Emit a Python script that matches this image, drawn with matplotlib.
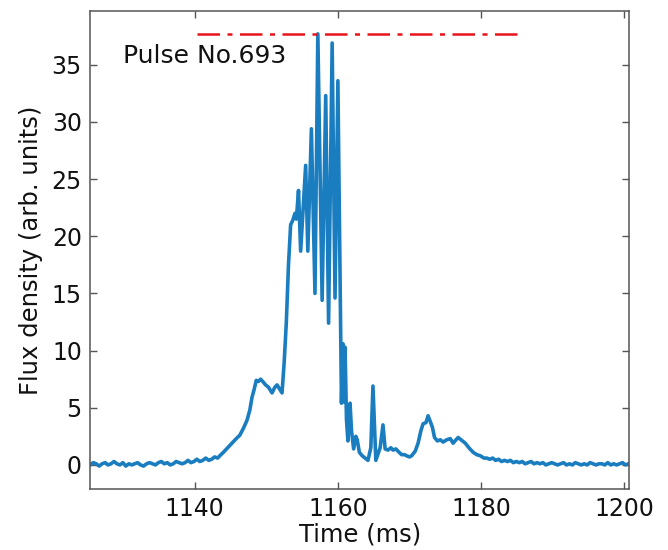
import matplotlib.pyplot as plt
import numpy as np

# quiet baseline before the pulse (sampled evenly from t0 to t1)
pre_t0, pre_t1 = 1125.0, 1143.2
pre_flux = [0.1, 0.0, 0.2, 0.1, -0.1, 0.1, 0.2, 0.0, 0.1, 0.3, 0.1, 0.0, 0.2,
            -0.1, 0.1, 0.0, 0.1, 0.2, 0.0, -0.1, 0.1, 0.2, 0.1, 0.0, 0.2, 0.3,
            0.1, 0.2, 0.0, 0.1, 0.3, 0.2, 0.1, 0.2, 0.4, 0.2, 0.3, 0.5, 0.3,
            0.4, 0.6, 0.4, 0.5, 0.7, 0.6]

# the burst itself
pulse_t = [1143.5, 1144.0, 1144.6, 1145.2, 1145.8, 1146.3, 1146.8, 1147.3,
           1147.7, 1148.0, 1148.3, 1148.6, 1148.9, 1149.2, 1149.5, 1149.9,
           1150.3, 1150.8, 1151.2, 1151.5, 1151.9, 1152.2, 1152.5, 1152.8,
           1153.1, 1153.4, 1153.7, 1154.0, 1154.2, 1154.5, 1154.8, 1155.5,
           1155.8, 1156.3, 1156.8, 1157.2, 1157.8, 1158.3, 1158.7, 1159.2,
           1159.6, 1160.0, 1160.5, 1160.7, 1160.9, 1161.0, 1161.2, 1161.4,
           1161.7, 1161.9, 1162.2, 1162.5, 1162.7, 1163.0, 1163.4, 1163.8,
           1164.2, 1164.6, 1164.9, 1165.3, 1165.9, 1166.3, 1166.6, 1167.0,
           1167.4, 1167.7, 1168.1, 1168.4, 1168.9, 1169.3, 1169.6, 1170.0,
           1170.3, 1170.8, 1171.2, 1171.6, 1171.9, 1172.3, 1172.6, 1172.9,
           1173.2, 1173.5, 1173.9, 1174.3, 1174.7, 1175.2, 1175.7, 1176.1,
           1176.5, 1176.8, 1177.2, 1177.8, 1178.3, 1178.9, 1179.4, 1179.9,
           1180.4]
pulse_flux = [0.8, 1.1, 1.5, 1.9, 2.3, 2.6, 3.2, 3.9,
              4.8, 5.9, 6.6, 7.4, 7.3, 7.5, 7.3, 7.0,
              6.8, 6.3, 6.8, 7.0, 6.6, 6.3, 9.0, 12.5,
              17.5, 21.0, 21.4, 22.0, 21.5, 24.0, 18.7, 26.2,
              18.7, 29.4, 15.0, 37.7, 14.4, 32.3, 12.4, 36.9,
              14.6, 33.6, 5.4, 10.6, 5.5, 10.3, 4.0, 2.1,
              5.4, 3.0, 1.4, 2.5, 2.2, 1.1, 0.8, 0.6,
              0.4, 1.5, 6.9, 0.4, 1.5, 3.5, 1.4, 1.3,
              1.5, 1.3, 1.4, 1.2, 0.9, 0.9, 0.8, 0.7,
              0.8, 1.2, 1.9, 3.0, 3.6, 3.7, 4.3, 3.8,
              3.3, 2.4, 2.1, 2.2, 2.0, 2.2, 2.3, 1.9,
              2.2, 2.4, 2.2, 1.9, 1.5, 1.1, 0.9, 0.8,
              0.6]

# decay back to baseline after the pulse
post_t0, post_t1 = 1180.8, 1201.0
post_flux = [0.6, 0.5, 0.6, 0.4, 0.5, 0.3, 0.4, 0.3, 0.4, 0.2, 0.3, 0.2,
             0.3, 0.1, 0.2, 0.3, 0.1, 0.2, 0.1, 0.2, 0.0, 0.1, 0.2, 0.1,
             0.0, 0.1, 0.2, 0.0, 0.1, 0.0, 0.2, 0.1, 0.0, 0.1, 0.0, 0.2,
             0.1, 0.0, 0.1, 0.1, 0.0, 0.2, 0.0, 0.1, 0.0, 0.1, 0.2, 0.0,
             0.1, 0.0]

threshold = 37.7
threshold_span = (1140.3, 1185.8)
pulse_label = 'Pulse No.693'

t = np.concatenate([np.linspace(pre_t0, pre_t1, len(pre_flux)),
                    pulse_t,
                    np.linspace(post_t0, post_t1, len(post_flux))])
flux = np.concatenate([pre_flux, pulse_flux, post_flux])

fig = plt.figure(figsize=(6.68, 5.5), dpi=100)
ax = fig.add_axes([0.135, 0.111, 0.807, 0.869])

ax.plot(t, flux, color='#1a7dc0', lw=2.6)
ax.plot(threshold_span, [threshold, threshold], color='#e8141c', lw=1.8,
        ls=(0, (9, 3, 2, 3)))
ax.text(1130.0, 35.8, pulse_label, fontsize=18, va='center', color='#111111')

ax.set_xlim(1125.4, 1200.7)
ax.set_ylim(-2.1, 39.7)
ax.set_xticks([1140, 1160, 1180, 1200])
ax.set_yticks(range(0, 40, 5))
ax.tick_params(direction='in', top=True, right=True, length=5, width=1,
               labelsize=17, colors='#555555', labelcolor='#111111', pad=6)
for s in ax.spines.values():
    s.set_color('#555555')
    s.set_linewidth(1.1)

ax.set_xlabel('Time (ms)', fontsize=17.5, color='#111111', labelpad=1)
ax.set_ylabel('Flux density (arb. units)', fontsize=17.5, color='#111111',
              labelpad=6)

fig.savefig('out.png', dpi=100)
